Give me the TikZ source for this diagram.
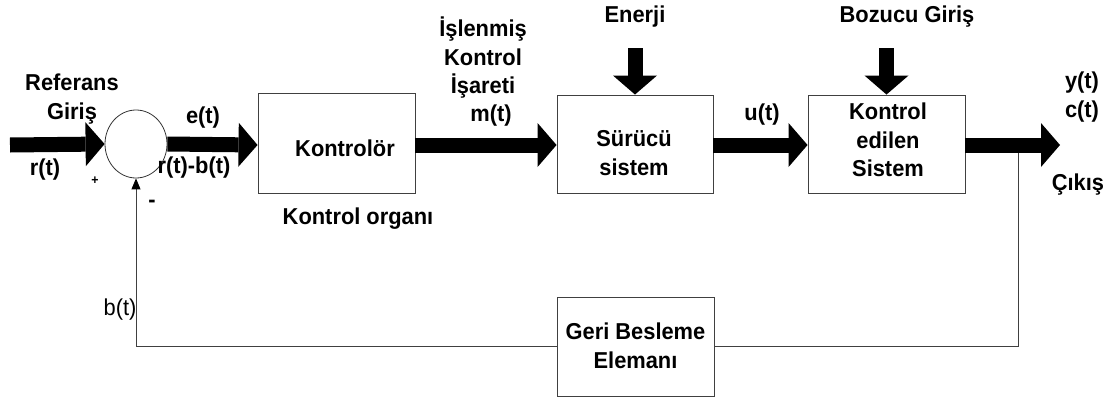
\documentclass[tikz,border=0pt]{standalone}
\usepackage{fontspec}
\setmainfont{Liberation Sans}[FakeStretch=0.95]
\usetikzlibrary{arrows.meta,shapes.geometric}
\begin{document}
\begin{tikzpicture}[x=1pt,y=-1pt,
  every node/.style={font=\fontsize{23}{28.5}\selectfont\bfseries, inner sep=0pt},
  block/.style={draw=black!75, line width=0.9pt, fill=white},
  fat/.style={line width=15pt, -{Triangle[width=44pt,length=19pt,line width=0pt]}},
  thin/.style={draw=black!75, line width=0.9pt},
  lbl/.style={align=center}]
  \useasboundingbox (0,0) rectangle (1120,399);

  % summing junction
  \node[ellipse, draw=black!80, line width=0.8pt, minimum width=62pt, minimum height=68pt] (sum) at (136,144) {};

  % forward path blocks
  \node[block, minimum width=157pt, minimum height=100pt] (ctrl) at (336.5,143) {};
  \node[block, minimum width=156pt, minimum height=98pt] (drv) at (635,144) {};
  \node[block, minimum width=157pt, minimum height=98pt] (plant) at (886.5,144) {};
  \node[block, minimum width=157pt, minimum height=99pt] (fb) at (635.5,346.5) {};

  % free ends
  \coordinate (in) at (10,145);
  \coordinate (out) at (1060,145);
  \coordinate (tap) at (1018,145);
  \coordinate (en) at (635,48);
  \coordinate (dist) at (886.5,48);

  % feedback loop
  \draw[thin] (tap) |- (fb.east);
  \draw[thin, -{Triangle[width=9pt,length=11pt,fill=black,color=black]}] (fb.west) -| (sum.south);

  % signal arrows
  \draw[fat] (in) -- (sum.west);
  \draw[fat] (sum.east) -- (ctrl.west |- in);
  \draw[fat] (ctrl.east |- in) -- (drv.west |- in);
  \draw[fat] (drv.east |- in) -- (plant.west |- in);
  \draw[fat] (plant.east |- in) -- (out);
  \draw[fat] (en) -- (drv.north);
  \draw[fat] (dist) -- (plant.north);

  % block texts
  \node at (345,148) {Kontrolör};
  \node[lbl] at (634,153) {Sürücü\\sistem};
  \node[lbl] at (888,140) {Kontrol\\edilen\\Sistem};
  \node[lbl] at (635.5,346) {Geri Besleme\\Elemanı};

  % signal labels
  \node[lbl] (ref) at (72,99) {Referans\\Giriş};
  \node (rt) at (45,170) {r(t)};
  \node[font=\fontsize{13}{15}\selectfont\bfseries] (plus) at (95,181) {+};
  \node (minus) at (152,204) {-};
  \node (et) at (203,118) {e(t)};
  \node (rb) at (194,168) {r(t)-b(t)};
  \node (org) at (358,219) {Kontrol organı};
  \node[font=\fontsize{23}{28}\selectfont] (bt) at (120,310) {b(t)};
  \node[lbl] (sig) at (483,58) {İşlenmiş\\Kontrol\\İşareti};
  \node (mt) at (491,116) {m(t)};
  \node (ener) at (635,17) {Enerji};
  \node (ut) at (762,115) {u(t)};
  \node (boz) at (907,17) {Bozucu Giriş};
  \node[lbl] (yc) at (1082,97) {y(t)\\c(t)};
  \node (cik) at (1078,185) {Çıkış};
\end{tikzpicture}
\end{document}
